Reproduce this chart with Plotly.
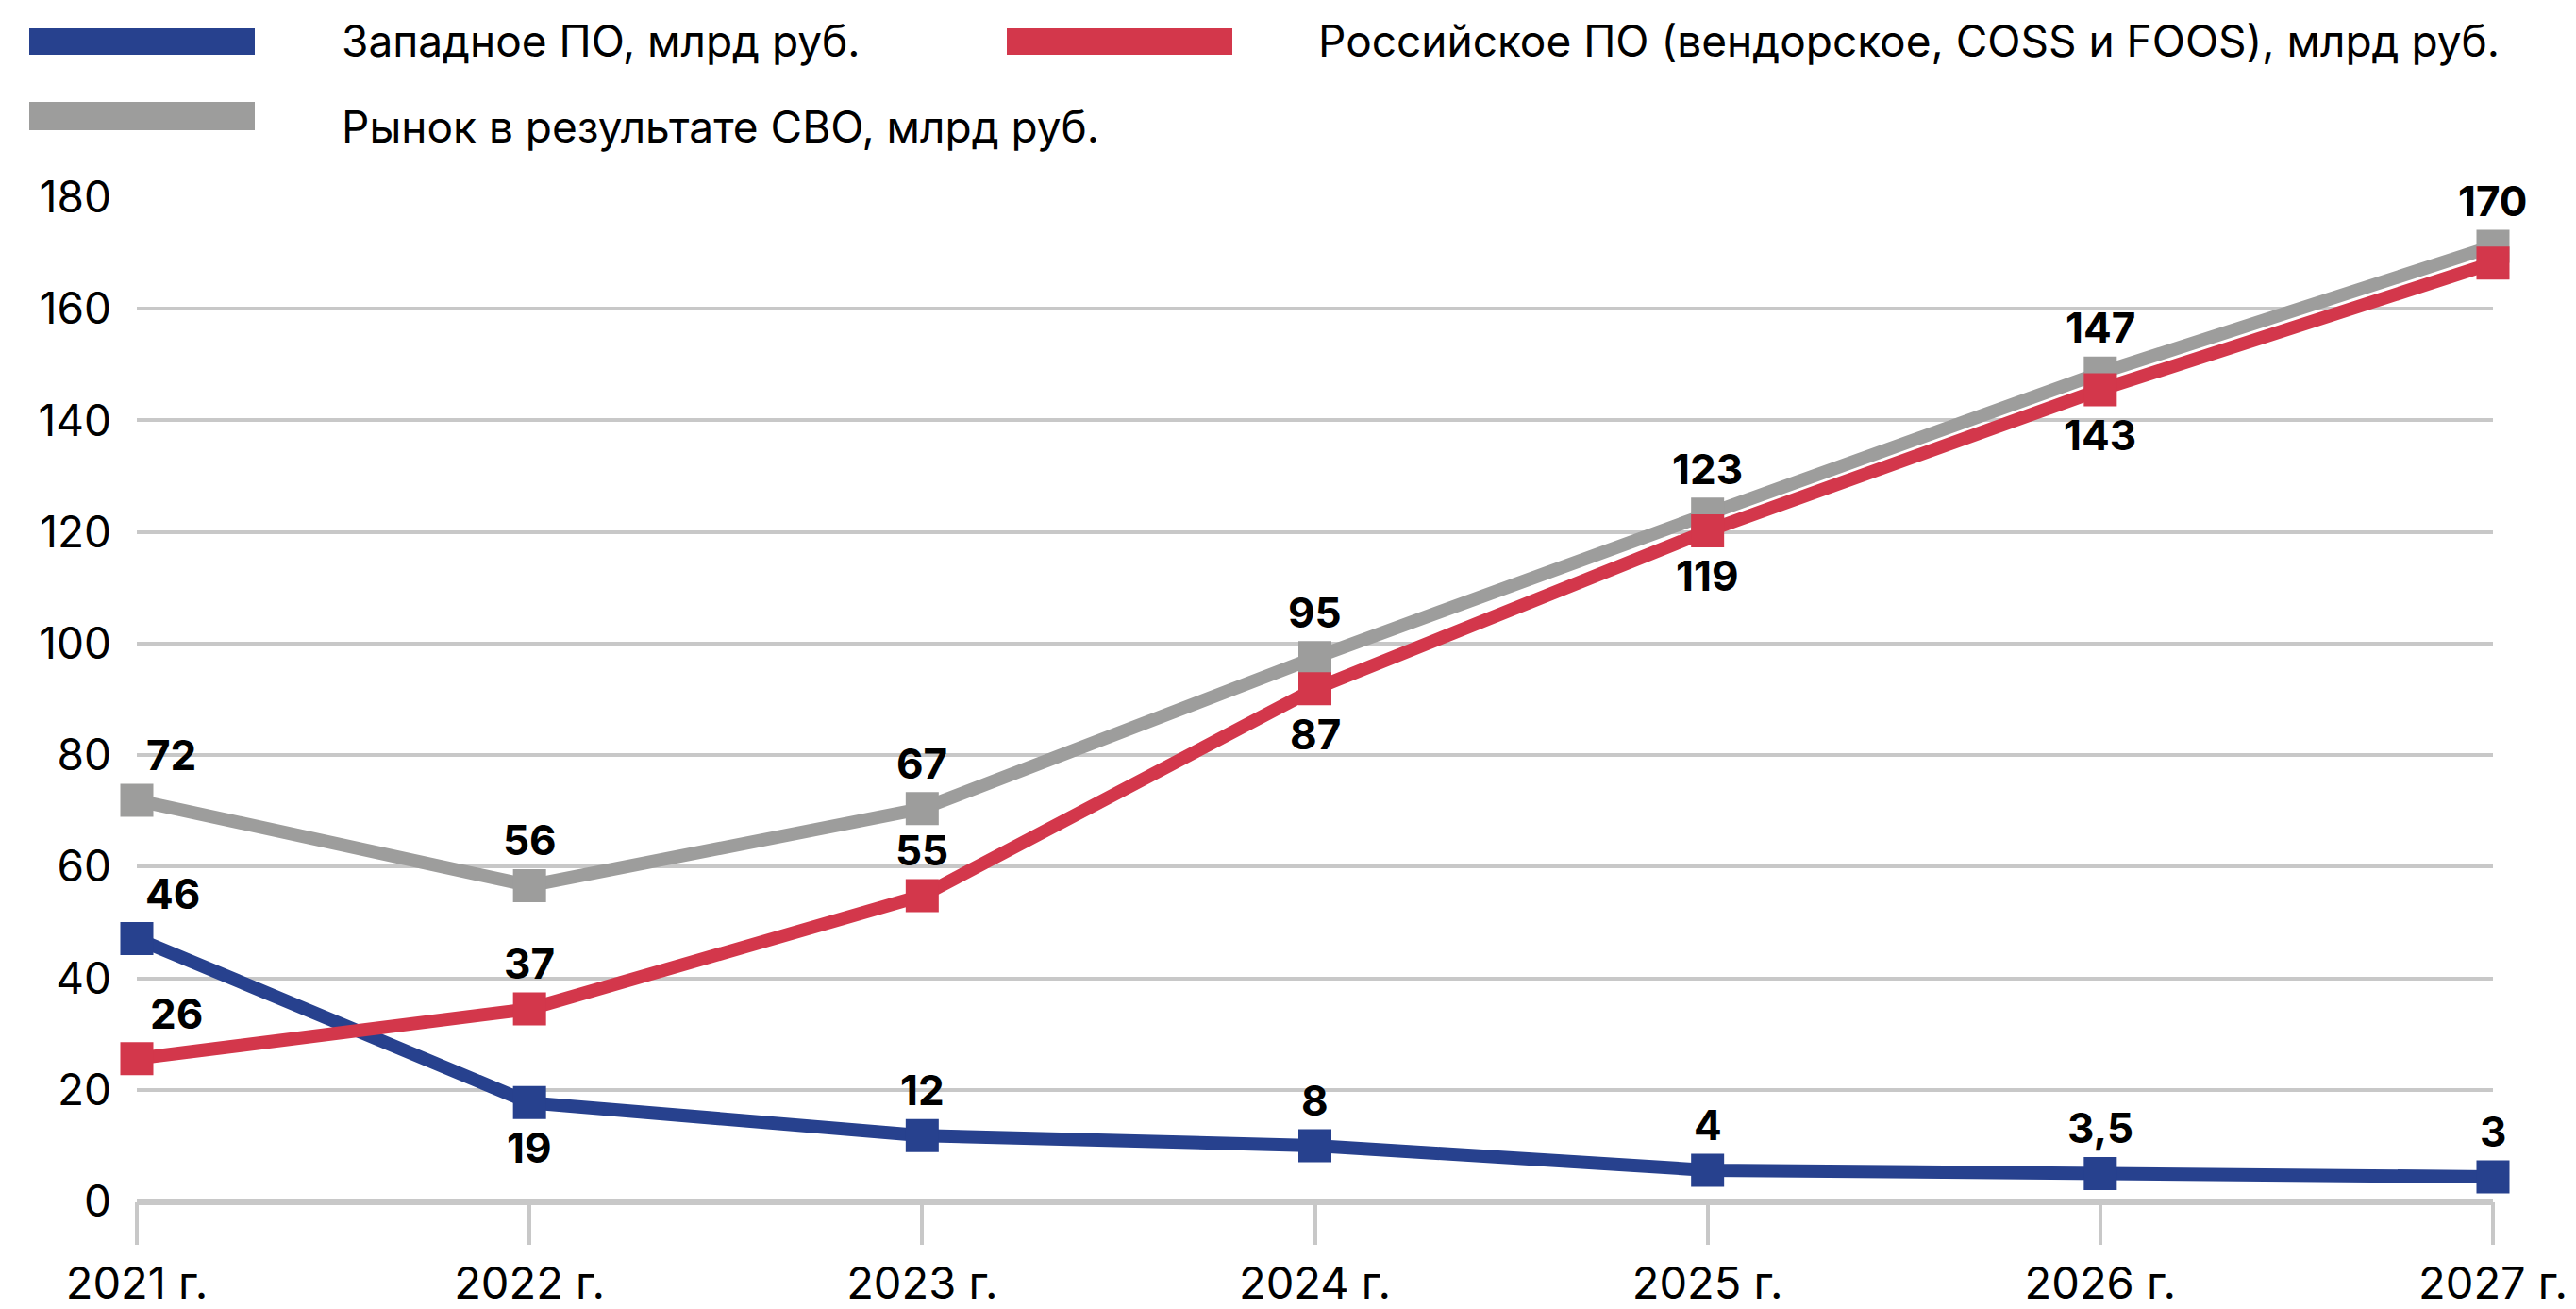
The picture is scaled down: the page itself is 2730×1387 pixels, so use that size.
import plotly.graph_objects as go

years = ["2021 г.", "2022 г.", "2023 г.", "2024 г.", "2025 г.", "2026 г.", "2027 г."]
x_idx = [0, 1, 2, 3, 4, 5, 6]

# plotted positions
western = [47.1, 17.7, 11.8, 10.0, 5.6, 5.0, 4.4]
russian = [25.6, 34.5, 54.8, 91.9, 120.2, 145.5, 168.2]
market = [71.9, 56.6, 70.4, 97.5, 123.2, 148.5, 171.2]

# printed data labels
western_labels = ["46", "19", "12", "8", "4", "3,5", "3"]
russian_labels = ["26", "37", "55", "87", "119", "143", ""]
market_labels = ["72", "56", "67", "95", "123", "147", "170"]

names = [
    "Западное ПО, млрд руб.",
    "Российское ПО (вендорское, COSS и FOOS), млрд руб.",
    "Рынок в результате СВО, млрд руб.",
]

BLUE = "#27418E"
RED = "#D3374B"
GRAY = "#9D9D9C"
GRID = "#C8C8C8"
FONT = "Inter"

fig = go.Figure()
for vals, col in [(market, GRAY), (western, BLUE), (russian, RED)]:
    fig.add_trace(go.Scatter(
        x=x_idx, y=vals, mode="lines+markers",
        line=dict(color=col, width=14),
        marker=dict(symbol="square", size=35, color=col),
        cliponaxis=False, showlegend=False, hoverinfo="skip",
    ))

# label placement: +1 above, -1 below
market_pos = [1, 1, 1, 1, 1, 1, 1]
russian_pos = [1, 1, 1, -1, -1, -1, 1]
western_pos = [1, -1, 1, 1, 1, 1, 1]
first_shift = {"m": 36, "r": 42, "w": 38}

annotations = []
for key, vals, labs, pos in [("m", market, market_labels, market_pos),
                             ("r", russian, russian_labels, russian_pos),
                             ("w", western, western_labels, western_pos)]:
    for i, (v, t, p) in enumerate(zip(vals, labs, pos)):
        if not t:
            continue
        annotations.append(dict(
            x=x_idx[i], y=v, xref="x", yref="y", text="<b>%s</b>" % t,
            showarrow=False, yshift=48 * p, xshift=first_shift[key] if i == 0 else 0,
            font=dict(family=FONT, size=44, color="#000000", weight=800),
            xanchor="center", yanchor="middle",
        ))

# manual legend (pixel -> paper coordinates)
L, R, T, B = 145, 2642, 209, 1273
W, H = R - L, B - T
def px(xp):
    return (xp - L) / W
def py(yp):
    return (B - yp) / H

shapes = []
legend_items = [
    (31, 270, 30, 58, BLUE, 360, 43, names[0]),
    (1067, 1306, 30, 58, RED, 1395, 43, names[1]),
    (31, 270, 108, 138, GRAY, 360, 134, names[2]),
]
for x0, x1, y0, y1, col, tx, ty, name in legend_items:
    shapes.append(dict(type="rect", xref="paper", yref="paper",
                       x0=px(x0), x1=px(x1), y0=py(y1), y1=py(y0),
                       fillcolor=col, line=dict(width=0), layer="above"))
    annotations.append(dict(x=px(tx), y=py(ty), xref="paper", yref="paper",
                            text=name, showarrow=False, xanchor="left", yanchor="middle",
                            font=dict(family=FONT, size=46, color="#000000")))

fig.update_layout(
    width=2730, height=1387,
    margin=dict(l=L, r=2730 - R, t=T, b=1387 - B, pad=0, autoexpand=False),
    plot_bgcolor="white", paper_bgcolor="white",
    font=dict(family=FONT, size=42, color="#000000"),
    annotations=annotations, shapes=shapes,
    xaxis=dict(
        range=[0, 6], tickmode="array", tickvals=x_idx, ticktext=years,
        showgrid=False, zeroline=False, showline=False, automargin=False,
        ticks="outside", ticklen=45, tickwidth=4, tickcolor=GRID,
        ticklabelstandoff=1,
        tickfont=dict(family=FONT, size=47, color="#000000"),
    ),
    yaxis=dict(
        range=[0, 180], tickmode="array", tickvals=list(range(0, 181, 20)),
        showgrid=True, gridcolor=GRID, gridwidth=4, automargin=False,
        zeroline=True, zerolinecolor=GRID, zerolinewidth=7,
        showline=False, ticks="", ticklabelstandoff=26,
        tickfont=dict(family=FONT, size=46, color="#000000"),
    ),
)

fig.write_html("out.html", config={"displayModeBar": False},
               post_script="document.body.style.margin='0';")
